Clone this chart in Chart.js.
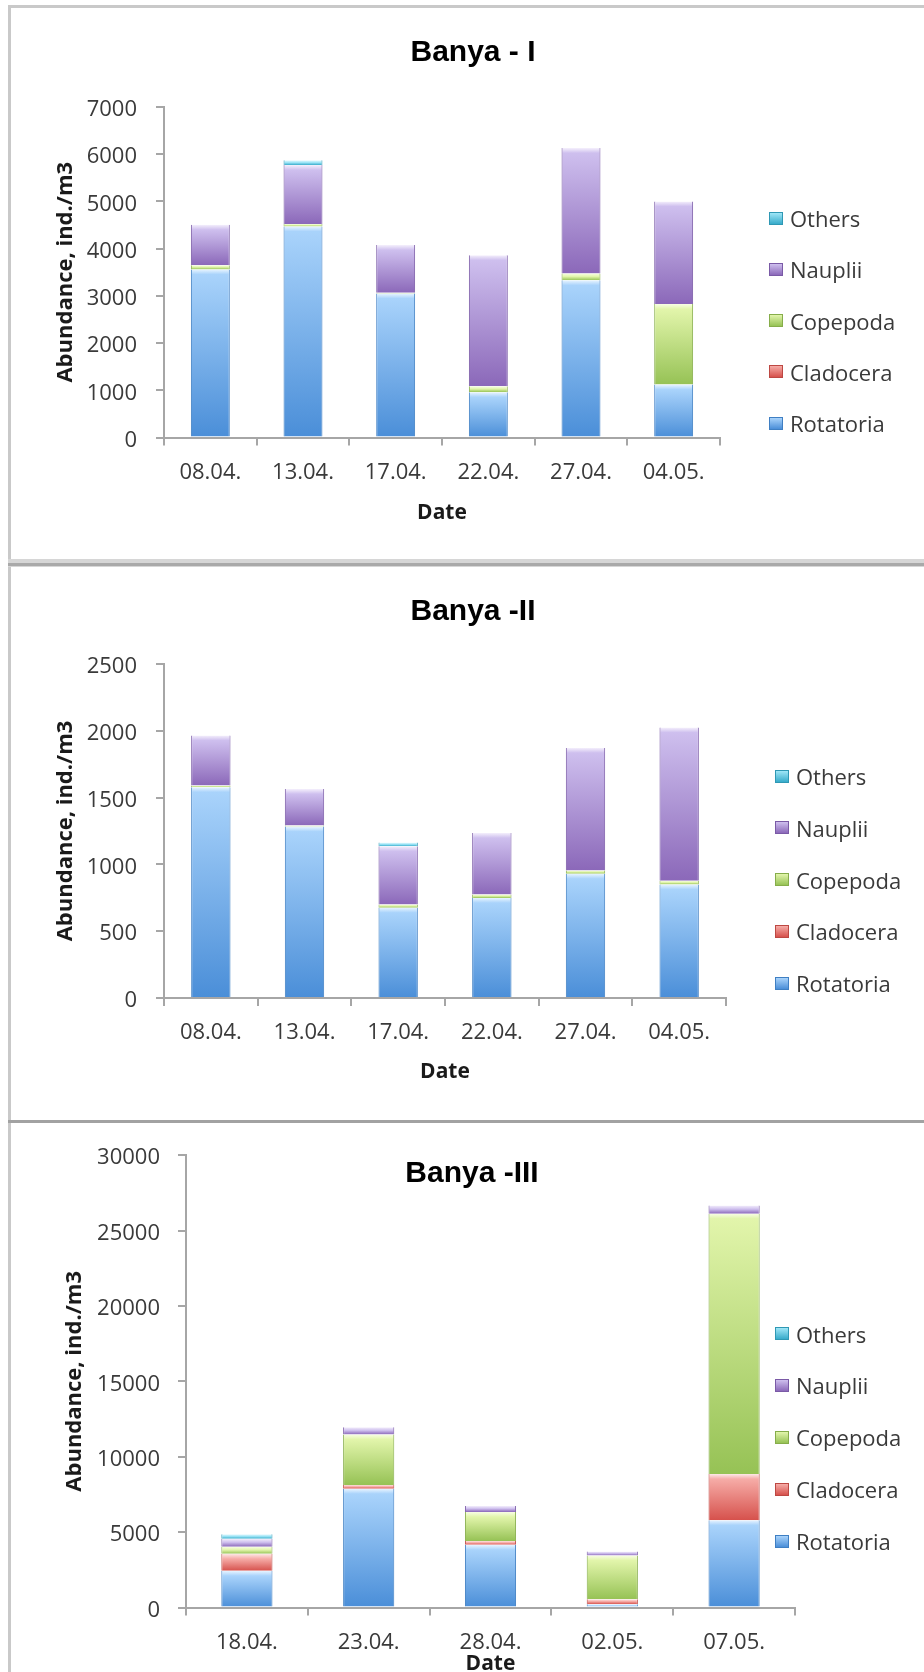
<!DOCTYPE html>
<html>
<head>
<meta charset="utf-8">
<title>Banya zooplankton abundance</title>
<script src="https://cdn.jsdelivr.net/npm/chart.js@4.4.1/dist/chart.umd.min.js"></script>
<style>
  html, body { margin: 0; padding: 0; background: #fff; }
  body { position: relative; width: 924px; height: 1672px; overflow: hidden; font-family: 'Open Sans', 'DejaVu Sans', sans-serif; }
  .rule { position: absolute; background: #c9c9c9; }
  canvas { position: absolute; left: 0; }
  .legend { position: absolute; }
  .legend .item { position: absolute; left: 0; height: 26px; display: flex; align-items: center; white-space: nowrap; font-size: 22px; color: #3a3a3a; }
  .legend .swatch { width: 14px; height: 13px; margin-right: 7px; box-sizing: border-box; }
</style>
</head>
<body>
<!-- frame and panel separators -->
<div class="rule" style="left:8px;top:5px;width:916px;height:3px"></div>
<div class="rule" style="left:8px;top:5px;width:3px;height:1667px"></div>
<div class="rule" style="left:8px;top:559px;width:916px;height:8px;background:#d6d6d6"></div>
<div class="rule" style="left:8px;top:563px;width:916px;height:3px;background:#a9a9a9"></div>
<div class="rule" style="left:8px;top:1120px;width:916px;height:3px;background:#a2a2a2"></div>

<canvas id="c1" width="924" height="550" style="top:9px"></canvas>
<canvas id="c2" width="924" height="550" style="top:568px"></canvas>
<canvas id="c3" width="924" height="560" style="top:1124px"></canvas>

<div class="legend" id="lg1"></div>
<div class="legend" id="lg2"></div>
<div class="legend" id="lg3"></div>

<script>
// ---- data -------------------------------------------------------------
const seriesNames = ['Rotatoria', 'Cladocera', 'Copepoda', 'Nauplii', 'Others'];

// Banya - I
const dates1     = ['08.04.', '13.04.', '17.04.', '22.04.', '27.04.', '04.05.'];
const rotatoria1 = [3560, 4470, 3050, 960, 3330, 1120];
const cladocera1 = [0, 0, 0, 0, 0, 0];
const copepoda1  = [90, 50, 15, 125, 145, 1705];
const nauplii1   = [855, 1250, 1010, 2775, 2655, 2175];
const others1    = [0, 100, 0, 0, 0, 0];
const yMax1 = 7000, yStep1 = 1000;

// Banya -II
const dates2     = ['08.04.', '13.04.', '17.04.', '22.04.', '27.04.', '04.05.'];
const rotatoria2 = [1578, 1283, 676, 749, 930, 850];
const cladocera2 = [0, 0, 0, 0, 0, 0];
const copepoda2  = [13, 8, 24, 26, 25, 27];
const nauplii2   = [374, 273, 436, 460, 917, 1147];
const others2    = [0, 0, 27, 0, 0, 0];
const yMax2 = 2500, yStep2 = 500;

// Banya -III
const dates3     = ['18.04.', '23.04.', '28.04.', '02.05.', '07.05.'];
const rotatoria3 = [2430, 7870, 4154, 220, 5790];
const cladocera3 = [1130, 263, 262, 330, 3060];
const copepoda3  = [470, 3345, 1924, 2900, 17270];
const nauplii3   = [530, 481, 394, 263, 550];
const others3    = [300, 0, 0, 0, 0];
const yMax3 = 30000, yStep3 = 5000;

// ---- styling ----------------------------------------------------------
const PALETTE = [
  { hi: '#e8f4ff', light: '#a9d3fb', dark: '#4a8ed8', edge: '#3f7fc3', swatch: '#6aa7e6' }, // Rotatoria
  { hi: '#fde8e6', light: '#f6aca7', dark: '#d6514c', edge: '#bd4843', swatch: '#e0706b' }, // Cladocera
  { hi: '#f8fee4', light: '#e2f5ab', dark: '#96c255', edge: '#86ad4a', swatch: '#b5d86f' }, // Copepoda
  { hi: '#f4effc', light: '#cebfee', dark: '#8b68b9', edge: '#7a5aa6', swatch: '#a184cb' }, // Nauplii
  { hi: '#e4f9fe', light: '#9fe6f7', dark: '#37abca', edge: '#2f98b4', swatch: '#4bbfdc' }  // Others
];
const AXIS = '#a6a6a6';
const TEXT = '#3a3a3a';

Chart.defaults.font.family = "'Open Sans', 'DejaVu Sans', sans-serif";
Chart.defaults.color = TEXT;

// glossy vertical gradient for each stacked segment, spanning the segment itself
function segmentFill(i) {
  const pal = PALETTE[i];
  return (ctx) => {
    if (ctx.type !== 'data') return pal.swatch;
    const chart = ctx.chart;
    const y = chart.scales.y;
    if (!y) return pal.swatch;
    const ds = chart.data.datasets;
    let base = 0;
    for (let k = 0; k < ctx.datasetIndex; k++) base += ds[k].data[ctx.dataIndex] || 0;
    const top = base + (ds[ctx.datasetIndex].data[ctx.dataIndex] || 0);
    const y0 = y.getPixelForValue(top);
    const y1 = y.getPixelForValue(base);
    const h = y1 - y0;
    if (!(h > 0.5) || !isFinite(h)) return pal.light;
    const g = chart.ctx.createLinearGradient(0, y0, 0, y1);
    g.addColorStop(0, pal.hi);
    g.addColorStop(Math.min(0.45, 5 / h), pal.light);
    g.addColorStop(1, pal.dark);
    return g;
  };
}

function drawPanel(spec) {
  const datasets = spec.series.map((values, i) => ({
    label: seriesNames[i],
    data: values,
    backgroundColor: segmentFill(i),
    borderColor: PALETTE[i].edge,
    borderWidth: { left: 1, right: 1, top: 0, bottom: 0 },
    categoryPercentage: 0.42,
    barPercentage: 1
  }));

  new Chart(document.getElementById(spec.canvasId), {
    type: 'bar',
    data: { labels: spec.labels, datasets },
    options: {
      responsive: false,
      animation: false,
      devicePixelRatio: 1,
      layout: { padding: { left: spec.padLeft, right: 0, top: 0, bottom: 0 } },
      plugins: {
        legend: { display: false },
        tooltip: { enabled: false },
        title: {
          display: true,
          text: spec.title,
          color: '#000',
          font: { family: "'Liberation Sans', Arial, sans-serif", size: 30, weight: 'bold', lineHeight: 1.2 },
          padding: { top: 26, bottom: spec.titleGap }
        }
      },
      scales: {
        x: {
          stacked: true,
          offset: true,
          grid: { drawOnChartArea: false, drawTicks: true, tickLength: 8, color: AXIS, lineWidth: 2, offset: true },
          border: { display: true, color: AXIS, width: 2 },
          ticks: { padding: spec.xTickPad, font: { size: 22 }, color: TEXT, maxRotation: 0, autoSkip: false },
          title: {
            display: true, text: 'Date', color: '#1a1a1a',
            font: { size: 21, weight: 'bold' },
            padding: { top: 0, bottom: spec.dateGap }
          },
          afterFit: (s) => { s.height = spec.xHeight; }
        },
        y: {
          stacked: true,
          min: 0,
          max: spec.yMax,
          grid: { drawOnChartArea: false, drawTicks: true, tickLength: 8, color: AXIS, lineWidth: 2 },
          border: { display: true, color: AXIS, width: 2 },
          ticks: {
            stepSize: spec.yStep, padding: spec.yTickPad, labelOffset: 3,
            font: { size: 22 }, color: TEXT,
            callback: (v) => String(v)
          },
          title: {
            display: true, text: 'Abundance, ind./m3', color: '#1a1a1a',
            font: { size: 22, weight: 'bold' },
            padding: { top: spec.yTitlePad, bottom: 0 }
          },
          afterFit: (s) => { s.width = spec.yWidth; }
        },
        // empty band on the right that holds the series key
        legendSpace: {
          type: 'linear',
          position: 'right',
          display: true,
          grid: { display: false },
          border: { display: false },
          ticks: { display: false },
          afterFit: (s) => { s.width = spec.rightSpace; }
        }
      }
    }
  });

  // series key, top entry = last stacked series
  const box = document.getElementById(spec.legendId);
  box.style.left = spec.legendLeft + 'px';
  box.style.top = '0px';
  const order = seriesNames.map((_, i) => i).reverse();
  order.forEach((si, row) => {
    const item = document.createElement('div');
    item.className = 'item';
    item.style.top = (spec.legendFirst + row * spec.legendStep - 13) + 'px';
    const sw = document.createElement('span');
    sw.className = 'swatch';
    sw.style.background = 'linear-gradient(to bottom, ' + PALETTE[si].light + ', ' + PALETTE[si].dark + ')';
    sw.style.border = '1px solid ' + PALETTE[si].edge;
    const tx = document.createElement('span');
    tx.textContent = seriesNames[si];
    item.appendChild(sw);
    item.appendChild(tx);
    box.appendChild(item);
  });
}

drawPanel({
  canvasId: 'c1', legendId: 'lg1', title: 'Banya - I',
  labels: dates1, series: [rotatoria1, cladocera1, copepoda1, nauplii1, others1],
  yMax: yMax1, yStep: yStep1,
  padLeft: 22, yWidth: 142, rightSpace: 204,
  titleGap: 36, xHeight: 121.5, xTickPad: 14, dateGap: 33.4,
  yTitlePad: 30.8, yTickPad: 19,
  legendLeft: 769, legendFirst: 218, legendStep: 51.25
});

drawPanel({
  canvasId: 'c2', legendId: 'lg2', title: 'Banya -II',
  labels: dates2, series: [rotatoria2, cladocera2, copepoda2, nauplii2, others2],
  yMax: yMax2, yStep: yStep2,
  padLeft: 22, yWidth: 142, rightSpace: 198,
  titleGap: 34, xHeight: 120, xTickPad: 14, dateGap: 32.9,
  yTitlePad: 30.8, yTickPad: 19,
  legendLeft: 775, legendFirst: 776, legendStep: 51.75
});

drawPanel({
  canvasId: 'c3', legendId: 'lg3', title: 'Banya -III',
  labels: dates3, series: [rotatoria3, cladocera3, copepoda3, nauplii3, others3],
  yMax: yMax3, yStep: yStep3,
  padLeft: 20, yWidth: 166, rightSpace: 129,
  titleGap: -37, xHeight: 76.5, xTickPad: 14, dateGap: 7.4,
  yTitlePad: 41.8, yTickPad: 18,
  legendLeft: 775, legendFirst: 1333.5, legendStep: 51.9
});
</script>
</body>
</html>
